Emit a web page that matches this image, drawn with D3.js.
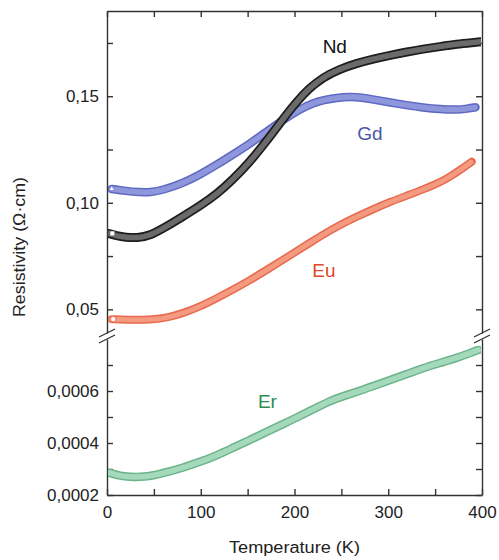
<!DOCTYPE html>
<html><head><meta charset="utf-8">
<script src="https://cdn.jsdelivr.net/npm/d3@7"></script>
<style>
body{margin:0;background:#fff}
svg{display:block}
text{font-family:"Liberation Sans",Arial,Helvetica,sans-serif;fill:#222}
</style>
</head><body>
<svg id="c" width="499" height="560"></svg>
<script>
// ---- data ----
const ndT = [2,10,20,32,46,64,81,99,117,134,152,170,188,202,215,231,248,266,284,302,320,337,355,373,390,400];
const ndR = [0.0856,0.0845,0.0838,0.0835,0.0846,0.0890,0.0936,0.0985,0.1040,0.1108,0.1190,0.1288,0.1395,0.1472,0.1535,0.1590,0.1627,0.1654,0.1675,0.1692,0.1708,0.1721,0.1733,0.1745,0.1752,0.1756];

const gdT = [5,20,35,46,60,81,99,117,135,153,170,188,206,220,231,245,259,272,284,300,320,337,355,373,385,393];
const gdR = [0.1065,0.1055,0.1050,0.1049,0.1060,0.1092,0.1132,0.1178,0.1228,0.1279,0.1333,0.1389,0.1440,0.1468,0.1482,0.1493,0.1498,0.1494,0.1485,0.1472,0.1458,0.1447,0.1439,0.1436,0.1442,0.1448];

const euT = [5,20,46,64,81,99,117,135,153,170,188,206,220,231,248,266,284,302,320,337,355,366,378,389];
const euR = [0.0454,0.0451,0.0450,0.0460,0.0482,0.0512,0.0552,0.0594,0.0638,0.0684,0.0733,0.0784,0.0822,0.0852,0.0895,0.0934,0.0970,0.1004,0.1034,0.1062,0.1095,0.1123,0.1158,0.1193];

const erT = [3,14,25,35,50,64,81,99,117,134,152,170,186,202,220,238,250,266,284,302,320,337,355,373,385,396];
const erR = [0.000285,0.000273,0.000270,0.000269,0.000275,0.000288,0.000305,0.000327,0.000352,0.000381,0.000411,0.000442,0.000470,0.000497,0.000530,0.000562,0.000578,0.000596,0.000619,0.000642,0.000665,0.000688,0.000708,0.000727,0.000743,0.000758];

const xTicks = [0,50,100,150,200,250,300,350,400];
const xLabels = [0,100,200,300,400];
const yTopTicks = [0.05,0.075,0.10,0.125,0.15,0.175];
const yTopLabels = [0.05,0.10,0.15];
const yBotTicks = [0.0002,0.0003,0.0004,0.0005,0.0006,0.0007];
const yBotLabels = [0.0002,0.0004,0.0006];

const seriesNames = ["Nd","Gd","Eu","Er"];

// ---- layout ----
const L = 107, R = 482, T = 11, B = 495;
const topBottom = 333, botTop = 339;
const svg = d3.select("#c");

const x = d3.scaleLinear().domain([0,400]).range([L,R]);
const yTop = d3.scaleLinear().domain([0.0389,0.19]).range([topBottom,T]);
const yBot = d3.scaleLinear().domain([0.0002,0.0008]).range([B,botTop]);

const axisColor = "#333";
function styleAxis(g){
  g.selectAll("path.domain").attr("stroke",axisColor).attr("stroke-width",1.4);
  g.selectAll(".tick line").attr("stroke",axisColor).attr("stroke-width",1.4);
  g.selectAll("text").attr("font-size",17).attr("fill","#222")
    .attr("font-family","'Liberation Sans',Arial,Helvetica,sans-serif");
}
const comma = f => (d => d3.format(f)(d).replace(".",","));

// left axes
svg.append("g").attr("transform",`translate(${L},0)`)
  .call(d3.axisLeft(yTop).tickValues(yTopTicks).tickSizeInner(-6).tickSizeOuter(0).tickPadding(8)
    .tickFormat(d => yTopLabels.some(v=>Math.abs(v-d)<1e-9) ? comma(".2f")(d) : ""))
  .call(styleAxis);
svg.append("g").attr("transform",`translate(${L},0)`)
  .call(d3.axisLeft(yBot).tickValues(yBotTicks).tickSizeInner(-6).tickSizeOuter(0).tickPadding(8)
    .tickFormat(d => yBotLabels.some(v=>Math.abs(v-d)<1e-12) ? comma(".4f")(d) : ""))
  .call(styleAxis);
// right axes
svg.append("g").attr("transform",`translate(${R},0)`)
  .call(d3.axisRight(yTop).tickValues(yTopTicks).tickSizeInner(-6).tickSizeOuter(0).tickFormat(""))
  .call(styleAxis);
svg.append("g").attr("transform",`translate(${R},0)`)
  .call(d3.axisRight(yBot).tickValues(yBotTicks).tickSizeInner(-6).tickSizeOuter(0).tickFormat(""))
  .call(styleAxis);
// bottom / top axes
svg.append("g").attr("transform",`translate(0,${B})`)
  .call(d3.axisBottom(x).tickValues(xTicks).tickSizeInner(-6).tickSizeOuter(0).tickPadding(11)
    .tickFormat(d => xLabels.includes(d) ? String(d) : ""))
  .call(styleAxis);
svg.append("g").attr("transform",`translate(0,${T})`)
  .call(d3.axisTop(x).tickValues(xTicks).tickSizeInner(-6).tickSizeOuter(0).tickFormat(""))
  .call(styleAxis);

// break marks
[L,R].forEach(cx=>{
  [topBottom, botTop].forEach(cy=>{
    svg.append("line").attr("x1",cx-8).attr("y1",cy+4).attr("x2",cx+8).attr("y2",cy-4)
      .attr("stroke",axisColor).attr("stroke-width",1.3);
  });
});

// curves
svg.append("clipPath").attr("id","ct").append("rect")
  .attr("x",L+1).attr("y",T+1).attr("width",R-L-2).attr("height",topBottom-T-1);
svg.append("clipPath").attr("id","cb").append("rect")
  .attr("x",L+1).attr("y",botTop).attr("width",R-L-2).attr("height",B-botTop-1);

function drawBand(ts, rs, yS, clip, outer, inner, wOuter, wInner){
  const pts = ts.map((t,i)=>[t, rs[i]]);
  const line = d3.line().x(d=>x(d[0])).y(d=>yS(d[1])).curve(d3.curveBasis);
  const g = svg.append("g").attr("clip-path",`url(#${clip})`);
  g.append("path").attr("d",line(pts)).attr("fill","none").attr("stroke",outer)
    .attr("stroke-width",wOuter).attr("stroke-linecap","round").attr("stroke-linejoin","round");
  g.append("path").attr("d",line(pts)).attr("fill","none").attr("stroke",inner)
    .attr("stroke-width",wInner).attr("stroke-linecap","round").attr("stroke-linejoin","round")
    .attr("stroke-dasharray","2.2,0.8");
  return pts;
}
drawBand(euT, euR, yTop, "ct", "#e8694b", "#f39a80", 8, 5);
drawBand(gdT, gdR, yTop, "ct", "#5f69c2", "#8f97dc", 8.5, 5.5);
drawBand(ndT, ndR, yTop, "ct", "#1e1e1e", "#6a6a6a", 9, 5.5);
drawBand(erT, erR, yBot, "cb", "#6cb58b", "#a5d9bb", 8.5, 5.5);

// first-point open markers
svg.append("rect").attr("x",x(ndT[0])+1).attr("y",yTop(ndR[0])-2.5).attr("width",5).attr("height",5)
  .attr("fill","#fff").attr("stroke","#555").attr("stroke-width",0.8);
svg.append("circle").attr("cx",x(euT[0])+1.5).attr("cy",yTop(euR[0])).attr("r",2.6)
  .attr("fill","#fff").attr("stroke","#e8694b").attr("stroke-width",0.8);
svg.append("path").attr("d",d3.symbol(d3.symbolTriangle,14)())
  .attr("transform",`translate(${x(gdT[0])},${yTop(gdR[0])})`)
  .attr("fill","#fff").attr("stroke","#5f69c2").attr("stroke-width",0.6);

// series labels
const labelData = [
  {name:seriesNames[0], t:230, v:0.1705, s:yTop, c:"#111"},
  {name:seriesNames[1], t:267, v:0.1297, s:yTop, c:"#4b55a8"},
  {name:seriesNames[2], t:219, v:0.0653, s:yTop, c:"#e2472c"},
  {name:seriesNames[3], t:161, v:0.000535, s:yBot, c:"#2f8c50"}
];
svg.selectAll("text.lab").data(labelData).enter().append("text").attr("class","lab")
  .attr("x",d=>x(d.t)).attr("y",d=>d.s(d.v)).attr("font-size",19).style("fill",d=>d.c)
  .text(d=>d.name);

// axis titles
svg.append("text").attr("x",(L+R)/2).attr("y",553).attr("text-anchor","middle")
  .attr("font-size",16).attr("textLength",131).attr("lengthAdjust","spacingAndGlyphs")
  .text("Temperature (K)");
svg.append("text").attr("transform","translate(25,247) rotate(-90)").attr("text-anchor","middle")
  .attr("font-size",16.5).attr("textLength",140).attr("lengthAdjust","spacingAndGlyphs")
  .text("Resistivity (Ω·cm)");
</script>
</body></html>
